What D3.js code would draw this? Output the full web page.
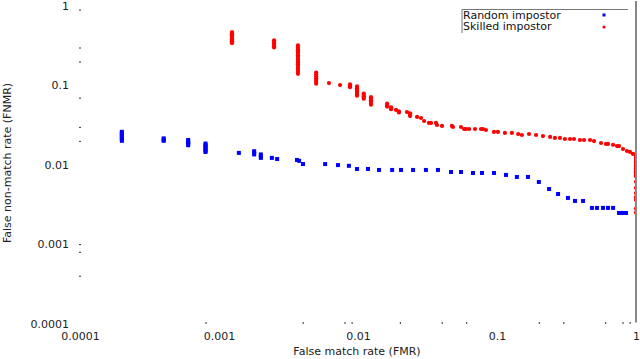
<!DOCTYPE html>
<html>
<head>
<meta charset="utf-8">
<script src="https://cdn.jsdelivr.net/npm/d3@7"></script>
<style>
  body { margin: 0; background: #fff; }
  svg { display: block; font-family: "DejaVu Sans", sans-serif; }
</style>
</head>
<body>
<svg class="chart" width="640" height="359"></svg>
<script>
(function() {
  'use strict';

// [FMR, FNMR] pairs (repeated FMR = vertical run of points)
var randomImpostor = [
  [0.0002, 0.026], [0.0002, 0.025], [0.0002, 0.024], [0.0002, 0.023], [0.0002, 0.022], [0.0002, 0.021], [0.0002, 0.020],
  [0.0004, 0.0215], [0.0004, 0.0207], [0.0004, 0.020],
  [0.0006, 0.0205], [0.0006, 0.0197], [0.0006, 0.019], [0.0006, 0.0183], [0.0006, 0.0176],
  [0.0008, 0.0185], [0.0008, 0.0177], [0.0008, 0.017], [0.0008, 0.0163], [0.0008, 0.0156], [0.0008, 0.015], [0.0008, 0.0145],
  [0.00139, 0.0141],
  [0.00179, 0.0148], [0.00179, 0.0141], [0.00179, 0.0135],
  [0.0020, 0.0135], [0.0020, 0.0128], [0.0020, 0.0122],
  [0.0024, 0.0122], [0.00262, 0.0118], [0.00364, 0.0115], [0.00377, 0.0112], [0.00402, 0.0102],
  [0.0058, 0.0102], [0.00718, 0.0099], [0.0086, 0.0097], [0.00984, 0.00885], [0.0118, 0.00885],
  [0.01416, 0.0086], [0.0176, 0.0086], [0.0204, 0.0086], [0.0249, 0.0086], [0.0308, 0.0086],
  [0.0376, 0.0086], [0.0467, 0.0081], [0.0551, 0.0081], [0.0672, 0.00788], [0.078, 0.00788],
  [0.0951, 0.00788], [0.116, 0.00744], [0.139, 0.00702], [0.167, 0.00702], [0.200, 0.00607],
  [0.237, 0.00495], [0.275, 0.00428], [0.324, 0.00382], [0.364, 0.0035], [0.416, 0.0035],
  [0.482, 0.00286], [0.524, 0.00286], [0.579, 0.00286], [0.629, 0.00286], [0.684, 0.00286],
  [0.755, 0.00247], [0.793, 0.00247], [0.847, 0.00247]
];

var skilledImpostor = [
  [0.00124, 0.47], [0.00124, 0.455], [0.00124, 0.44], [0.00124, 0.425], [0.00124, 0.41], [0.00124, 0.395],
  [0.00124, 0.38], [0.00124, 0.37], [0.00124, 0.36], [0.00124, 0.35], [0.00124, 0.34],
  [0.00249, 0.37], [0.00249, 0.355], [0.00249, 0.34], [0.00249, 0.325], [0.00249, 0.31], [0.00249, 0.30],
  [0.0037, 0.32], [0.0037, 0.30], [0.0037, 0.285], [0.0037, 0.27], [0.0037, 0.255], [0.0037, 0.24],
  [0.0037, 0.228], [0.0037, 0.215], [0.0037, 0.205], [0.0037, 0.195], [0.0037, 0.185], [0.0037, 0.175],
  [0.0037, 0.165], [0.0037, 0.157], [0.0037, 0.148], [0.0037, 0.14],
  [0.005, 0.145], [0.005, 0.137], [0.005, 0.13], [0.005, 0.123], [0.005, 0.117], [0.005, 0.111], [0.005, 0.105],
  [0.00618, 0.107], [0.00743, 0.101],
  [0.00876, 0.103], [0.00876, 0.099], [0.00876, 0.095],
  [0.00984, 0.097], [0.00984, 0.092], [0.00984, 0.088], [0.00984, 0.084], [0.00984, 0.08], [0.00984, 0.077], [0.00984, 0.074],
  [0.0110, 0.079], [0.0110, 0.076], [0.0110, 0.073], [0.0110, 0.07], [0.0110, 0.068],
  [0.0124, 0.071], [0.0124, 0.068], [0.0124, 0.065], [0.0124, 0.062], [0.0124, 0.06], [0.0124, 0.057],
  [0.0162, 0.059], [0.0162, 0.056], [0.0162, 0.054], [0.0173, 0.053], [0.0173, 0.051], [0.0173, 0.05], [0.01877, 0.049],
  [0.0197, 0.047], [0.0197, 0.0455], [0.0225, 0.0462], [0.0237, 0.0445], [0.0237, 0.0425], [0.0237, 0.041],
  [0.0266, 0.040], [0.0284, 0.0388], [0.0299, 0.0356], [0.0324, 0.0336], [0.0335, 0.0336],
  [0.0364, 0.0336], [0.037, 0.0317], [0.0402, 0.0308], [0.0474, 0.0308], [0.0482, 0.0299],
  [0.0551, 0.0299], [0.058, 0.0282], [0.0599, 0.0282], [0.063, 0.0282], [0.0695, 0.0282],
  [0.0767, 0.0282], [0.0793, 0.0282], [0.0833, 0.0274], [0.0951, 0.0259], [0.1016, 0.0259],
  [0.114, 0.0252], [0.128, 0.0252], [0.142, 0.0244], [0.151, 0.0237], [0.170, 0.0244],
  [0.191, 0.0237], [0.214, 0.0230], [0.241, 0.0224], [0.261, 0.0218], [0.284, 0.0218],
  [0.308, 0.0211], [0.335, 0.0211], [0.358, 0.0211], [0.395, 0.0205], [0.423, 0.0205],
  [0.467, 0.0205], [0.499, 0.0199], [0.560, 0.0188], [0.608, 0.0183], [0.629, 0.0183],
  [0.684, 0.0178], [0.730, 0.0172], [0.755, 0.0172], [0.806, 0.0158], [0.861, 0.0149],
  [0.906, 0.0145], [0.951, 0.0137],
  [1, 0.0135], [1, 0.013], [1, 0.0125], [1, 0.012], [1, 0.0115], [1, 0.011], [1, 0.0106], [1, 0.0102],
  [1, 0.0098], [1, 0.0094], [1, 0.009], [1, 0.0086], [1, 0.0083], [1, 0.008], [1, 0.0077], [1, 0.0074],
  [1, 0.0071], [1, 0.0061], [1, 0.0051], [1, 0.0044], [1, 0.0039], [1, 0.0036], [1, 0.0028], [1, 0.0025]
];

var xLabels = [0.0001, 0.001, 0.01, 0.1, 1];
var yLabels = [0.0001, 0.001, 0.01, 0.1, 1];
// only these minor ticks show up in the picture
var xMinor = [0.0008, 0.004, 0.008, 0.009, 0.02, 0.04, 0.06, 0.2, 0.3, 0.6, 0.8, 0.9];
var yMinor = [0.9, 0.3, 0.2, 0.07, 0.03, 0.02, 0.001, 0.0008, 0.0004];
var seriesNames = ['Random impostor', 'Skilled impostor'];

var left = 80, right = 636, top = 6, bottom = 323.5;

var x = d3.scaleLog()
  .domain([0.0001, 1])
  .range([left, right]);

var y = d3.scaleLog()
  .domain([0.0001, 1])
  .range([bottom, top]);

var fmt = function(d) { return String(d); };

var chart = d3.select('.chart');

chart.append('defs').append('clipPath')
    .attr('id', 'plot-clip')
  .append('rect')
    .attr('x', left - 3)
    .attr('y', 0)
    .attr('width', right - left + 3)
    .attr('height', bottom + 3);

// tick labels
var xAxis = chart.append('g')
    .attr('transform', 'translate(0,' + bottom + ')')
    .call(d3.axisBottom(x).tickValues(xLabels).tickFormat(fmt).tickSize(0).tickPadding(9));

var yAxis = chart.append('g')
    .attr('transform', 'translate(' + left + ',0)')
    .call(d3.axisLeft(y).tickValues(yLabels).tickFormat(fmt).tickSize(0).tickPadding(11));

// minor tick dots
var xTicks = chart.append('g')
    .attr('transform', 'translate(0,' + (bottom - 1.5) + ')')
    .call(d3.axisBottom(x).tickValues(xMinor).tickFormat('').tickSize(2));

var yTicks = chart.append('g')
    .attr('transform', 'translate(' + (left - 1) + ',0)')
    .call(d3.axisRight(y).tickValues(yMinor).tickFormat('').tickSize(2));

[xAxis, yAxis, xTicks, yTicks].forEach(function(g) {
  g.select('.domain').remove();
  g.selectAll('text')
    .attr('fill', '#222')
    .style('font-size', '11px')
    .style('font-family', '"DejaVu Sans", sans-serif');
  g.selectAll('line').attr('stroke', '#333').attr('stroke-width', 1);
});

// points
var plot = chart.append('g').attr('clip-path', 'url(#plot-clip)');

plot.selectAll('.random')
    .data(randomImpostor)
  .enter().append('rect')
    .attr('class', 'random')
    .attr('x', function(d) { return x(d[0]) - 2; })
    .attr('y', function(d) { return y(d[1]) - 2; })
    .attr('width', 4)
    .attr('height', 4)
    .attr('fill', '#0000ff');

plot.selectAll('.skilled')
    .data(skilledImpostor)
  .enter().append('circle')
    .attr('class', 'skilled')
    .attr('cx', function(d) { return x(d[0]); })
    .attr('cy', function(d) { return y(d[1]); })
    .attr('r', 2.1)
    .attr('fill', '#ff0000');

// right border
chart.append('line')
    .attr('x1', right)
    .attr('x2', right)
    .attr('y1', 1)
    .attr('y2', bottom - 1)
    .attr('stroke', '#888')
    .attr('stroke-width', 2);

// legend
var legend = chart.append('g');

legend.append('path')
    .attr('d', 'M462,33V9.5H628')
    .attr('fill', 'none')
    .attr('stroke', '#777')
    .attr('stroke-width', 1);

legend.selectAll('text')
    .data(seriesNames)
  .enter().append('text')
    .attr('x', 463)
    .attr('y', function(d, i) { return 15 + i * 11.5; })
    .attr('dy', '0.36em')
    .attr('fill', '#111')
    .style('font-size', '11px')
    .text(function(d) { return d; });

legend.append('rect')
    .attr('x', 602.5)
    .attr('y', 13.5)
    .attr('width', 3)
    .attr('height', 3)
    .attr('fill', '#0000ff');

legend.append('circle')
    .attr('cx', 604)
    .attr('cy', 27)
    .attr('r', 1.6)
    .attr('fill', '#ff0000');

// axis titles
chart.append('text')
    .attr('x', 357)
    .attr('y', 351)
    .attr('dy', '0.36em')
    .attr('text-anchor', 'middle')
    .attr('fill', '#222')
    .style('font-size', '11px')
    .text('False match rate (FMR)');

chart.append('text')
    .attr('transform', 'translate(7,163) rotate(-90)')
    .attr('dy', '0.36em')
    .attr('text-anchor', 'middle')
    .attr('fill', '#222')
    .style('font-size', '11px')
    .text('False non-match rate (FNMR)');
}());
</script>
</body>
</html>
